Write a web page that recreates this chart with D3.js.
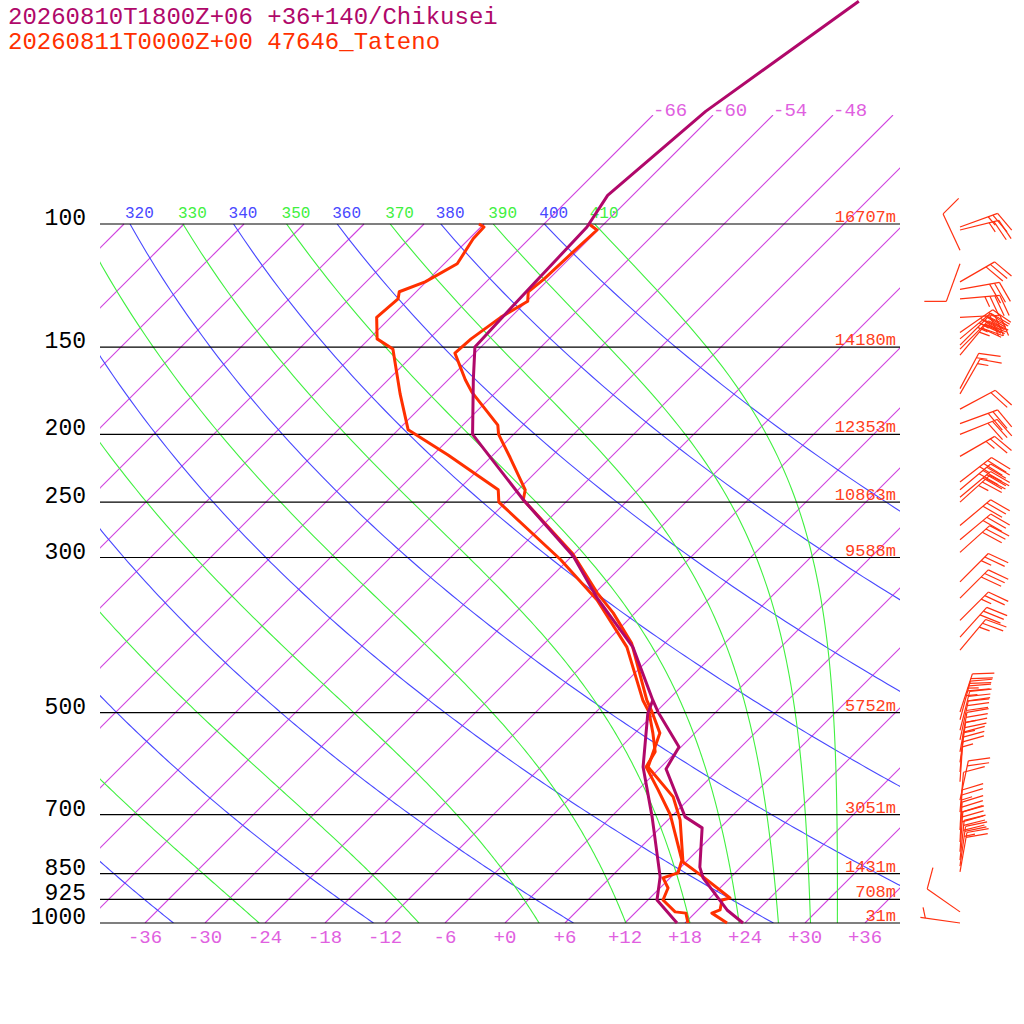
<!DOCTYPE html>
<html lang="en">
<head>
<meta charset="UTF-8">
<title>Skew-T</title>
<script src="https://d3js.org/d3.v7.min.js"></script>
<style>
  body { margin: 0; background: #fff; }
  text { font-family: "Liberation Mono", "DejaVu Sans Mono", monospace; }
</style>
</head>
<body>
<svg id="chart" width="1024" height="1024"></svg>
<script>
// ---- data ----
const isobars = [100, 150, 200, 250, 300, 500, 700, 850, 925, 1000];
const heights = ["16707m", "14180m", "12353m", "10863m", "9588m", "5752m", "3051m", "1431m", "708m", "31m"];
const bottomTicks = [-36, -30, -24, -18, -12, -6, 0, 6, 12, 18, 24, 30, 36];
const topIsoLabels = [-66, -60, -54, -48];
const dryThetas = [240, 260, 280, 300, 320, 340, 360, 380, 400];
const moistThetas = [250, 270, 290, 310, 330, 350, 370, 390, 410];

// Chikusei forecast [p, T]
const fcT = [[1000,23.8],[958,20.9],[862,15.3],[832,13.9],[731,10.2],[705,7.4],[602,0.7],[560,-0.2],[499,-5.8],
  [480,-7.5],[403,-14.8],[342,-23.4],[299,-29.8],[248,-40.5],[200,-52.1],[167,-57.5],[150,-60.6],[132,-60.9],
  [101,-61.4],[91,-62.5],[69,-61.1],[48,-56.8]];
const fcTd = [[1000,17.2],[927,12.9],[859,10.9],[705,4.1],[598,-1.8],[501,-6.7],[480,-7.5]];
// Tateno observed [p, T]
const obT = [[1000,22.2],[968,19.7],[958,20.2],[927,19.4],[921,20.0],[859,15.2],[818,11.7],[712,7.2],[660,4.2],
  [598,-1.3],[535,-3.5],[499,-6.4],[480,-8.1],[398,-15.3],[360,-20.2],[337,-23.8],[296,-30.2],[248,-40.5],
  [240,-41.3],[216,-46.0],[200,-49.5],[194,-50.5],[174,-56.4],[167,-58.3],[153,-62.0],[146,-61.8],[136,-61.0],
  [129,-59.9],[125,-60.8],[120,-60.5],[110,-60.3],[102,-60.1],[100,-61.5]];
const obTd = [[1000,18.3],[968,17.1],[964,15.9],[927,13.5],[891,12.8],[862,11.3],[848,12.3],[813,11.4],[700,5.7],
  [645,2.0],[598,-1.5],[569,-2.1],[535,-4.2],[499,-6.7],[480,-8.5],[403,-15.4],[345,-23.1],[302,-30.8],
  [250,-42.7],[240,-44.0],[214,-52.5],[197,-59.0],[175,-63.4],[151,-68.6],[146,-71.2],[136,-73.4],[128,-73.1],
  [125,-73.7],[121,-72.1],[114,-70.7],[105,-71.6],[101,-71.7],[100,-72.5]];
// wind [p, staff angle (deg clockwise from up), speed kt]
const winds = [[101,70,25],[102,76,25],[109,-25,10],[114,200,10],[121,60,30],[124,80,30],[128,85,35],[136,87,30],
  [143,55,40],[146,50,35],[149,45,35],[151,45,30],[154,40,25],[172,28,15],[175,30,15],[184,62,20],[193,70,30],
  [200,68,30],[215,60,25],[234,52,35],[240,50,40],[246,50,30],[250,48,35],[270,50,30],[283,50,30],[295,48,30],
  [325,45,25],[343,45,30],[369,45,25],[390,42,30],[407,40,25],[499,18,35],[512,15,35],[530,14,30],[547,12,30],
  [569,10,25],[589,8,25],[608,5,20],[628,4,15],[667,12,20],[694,5,10],[736,3,25],[766,3,30],[791,4,30],
  [813,6,30],[829,8,25],[845,10,20],[964,-55,10],[1000,-82,5]];

// ---- scales ----
const svg = d3.select("#chart");
const X0 = 100, X1 = 900, Ybot = 923, Ytop = 224;
const yP = d3.scaleLog().domain([1000, 100]).range([Ybot, Ytop]);
const xT = d3.scaleLinear().domain([0, 10]).range([505, 605]);
const sx = (T, p) => xT(T) + (Ybot - yP(p));

const defs = svg.append("defs");
defs.append("clipPath").attr("id", "plot").append("rect")
  .attr("x", X0).attr("y", Ytop).attr("width", X1 - X0).attr("height", Ybot - Ytop);
defs.append("clipPath").attr("id", "iso").append("rect")
  .attr("x", X0).attr("y", 115).attr("width", X1 - X0).attr("height", Ybot - 115);

const pressures = d3.range(1000, 99, -5);
const path = d3.line().x(d => d[0]).y(d => d[1]);

// isotherms
const gIso = svg.append("g").attr("clip-path", "url(#iso)");
d3.range(-120, 61, 6).forEach(T => {
  const yEnd = T >= -66 ? 115 : Ytop;
  gIso.append("path")
    .attr("d", path([[xT(T), Ybot], [xT(T) + (Ybot - yEnd), yEnd]]))
    .style("fill", "none").style("stroke", "#d040e0").style("stroke-width", "1.1px");
});

// dry adiabats
const gPlot = svg.append("g").attr("clip-path", "url(#plot)");
dryThetas.forEach(th => {
  const pts = pressures.map(p => [sx(th * Math.pow(p / 1000, 0.2857) - 273.15, p), yP(p)]);
  gPlot.append("path").attr("d", path(pts))
    .style("fill", "none").style("stroke", "#4848ff").style("stroke-width", "1.1px");
});

// moist adiabats via saturated theta-e (Bolton)
function thetaE(Tc, p) {
  const Tk = Tc + 273.15;
  const es = 6.112 * Math.exp(17.67 * Tc / (Tc + 243.5));
  const r = 0.622 * es / (p - es);
  return Tk * Math.pow(1000 / p, 0.2854 * (1 - 0.28 * r)) * Math.exp((3376 / Tk - 2.54) * r * (1 + 0.81 * r));
}
function solveT(te, p) {
  let lo = -140, hi = 45;
  for (let i = 0; i < 50; i++) {
    const mid = (lo + hi) / 2;
    if (thetaE(mid, p) > te) hi = mid; else lo = mid;
  }
  return (lo + hi) / 2;
}
moistThetas.forEach(te => {
  const pts = pressures.map(p => [sx(solveT(te, p), p), yP(p)]);
  gPlot.append("path").attr("d", path(pts))
    .style("fill", "none").style("stroke", "#40f040").style("stroke-width", "1.1px");
});

// theta labels at top; a label running off the left edge keeps only its visible digits
const cw = 16 * 0.6;
const thLabels = dryThetas.map(t => [t, "#4848ff", sx(t * Math.pow(0.1, 0.2857) - 273.15, 100)])
  .concat(moistThetas.map(t => [t, "#40f040", sx(solveT(t, 100), 100)]));
thLabels.forEach(([t, c, x]) => {
  let s = String(t), x0 = x - 5;
  while (s.length && x0 < X0 - 2) { s = s.slice(1); x0 += cw; }
  if (s.length && x0 < 640) {
    svg.append("text").attr("x", x0).attr("y", 218).attr("fill", c).attr("font-size", 16).text(s);
  }
});

// isobars
isobars.forEach((p, i) => {
  const y = yP(p);
  svg.append("line").attr("x1", X0).attr("x2", X1).attr("y1", y).attr("y2", y)
    .style("stroke", "#000").style("stroke-width", "1.2px");
  svg.append("text").attr("x", 86).attr("y", y + 1).attr("text-anchor", "end")
    .attr("font-size", 23).attr("fill", "#000").text(p);
  svg.append("text").attr("x", 896).attr("y", y - 2).attr("text-anchor", "end")
    .attr("font-size", 17).attr("fill", "#ff4020").text(heights[i]);
});

// temperature labels
bottomTicks.forEach(t => {
  svg.append("text").attr("x", xT(t)).attr("y", 943).attr("text-anchor", "middle")
    .attr("font-size", 19).attr("fill", "#e060e0").text(t > 0 ? "+" + t : (t === 0 ? "+0" : t));
});
topIsoLabels.forEach(t => {
  svg.append("text").attr("x", xT(t) + (Ybot - 115)).attr("y", 116)
    .attr("font-size", 19).attr("fill", "#e060e0").text(t);
});

// profiles
const prof = d3.line().x(d => sx(d[1], d[0])).y(d => yP(d[0]));
[[obTd, "#ff3000"], [obT, "#ff3000"], [fcTd, "#b0086a"], [fcT, "#b0086a"]].forEach(([data, c]) => {
  svg.append("path").attr("d", prof(data)).style("fill", "none").style("stroke", c)
    .style("stroke-width", "3px").style("stroke-linejoin", "round");
});

// wind barbs
const gW = svg.append("g");
winds.forEach(([p, a, spd]) => {
  const bx = 960, by = yP(p), L = 40;
  const r = a * Math.PI / 180;
  const ux = Math.sin(r), uy = -Math.cos(r);
  const tx = bx + L * ux, ty = by + L * uy;
  const seg = (x1, y1, x2, y2) => gW.append("line").attr("x1", x1).attr("y1", y1).attr("x2", x2).attr("y2", y2)
    .style("stroke", "#ff3010").style("stroke-width", "1.2px");
  seg(bx, by, tx, ty);
  const fr = (a + 70) * Math.PI / 180;
  const fx = Math.sin(fr), fy = -Math.cos(fr);
  const n = Math.floor(spd / 10), half = (spd % 10) >= 5;
  let k = 0;
  for (let i = 0; i < n; i++, k++) {
    const x0 = tx - ux * k * 5, y0 = ty - uy * k * 5;
    seg(x0, y0, x0 + fx * 22, y0 + fy * 22);
  }
  if (half) {
    if (k === 0) k = 1;
    const x0 = tx - ux * k * 5, y0 = ty - uy * k * 5;
    seg(x0, y0, x0 + fx * 11, y0 + fy * 11);
  }
});

// titles
svg.append("text").attr("x", 8).attr("y", 24).attr("font-size", 24).attr("fill", "#b0086a")
  .text("20260810T1800Z+06 +36+140/Chikusei");
svg.append("text").attr("x", 8).attr("y", 49).attr("font-size", 24).attr("fill", "#ff3000")
  .text("20260811T0000Z+00 47646_Tateno");
</script>
</body>
</html>
